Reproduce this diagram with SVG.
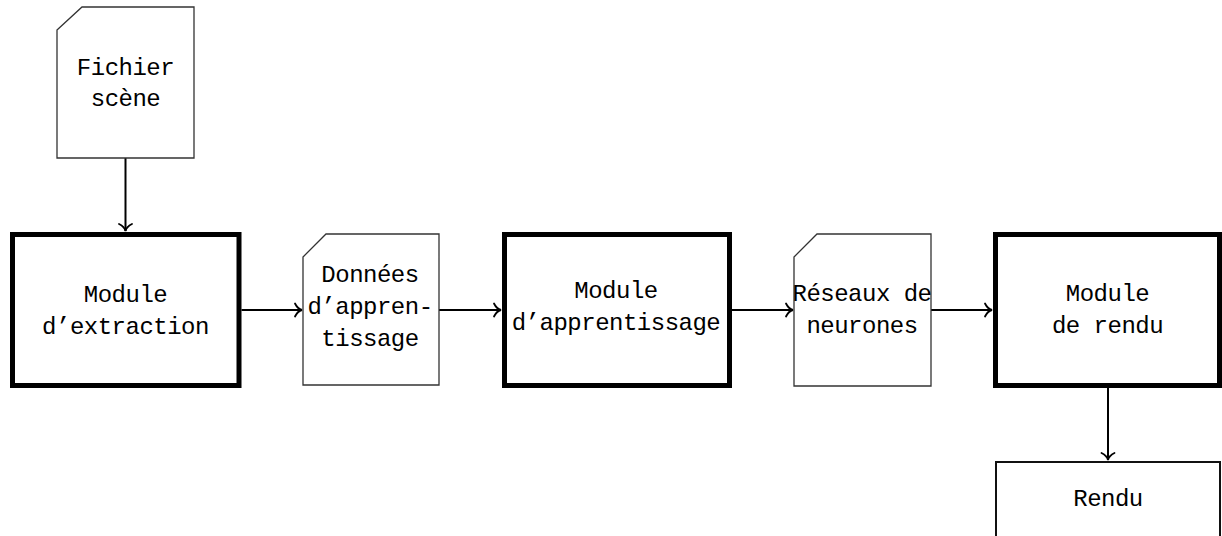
<svg xmlns="http://www.w3.org/2000/svg" width="1222" height="536" viewBox="0 0 1222 536">
<style>
.doc{fill:#fff;stroke:#333;stroke-width:1.3}
.mod{fill:#fff;stroke:#000;stroke-width:5}
.out{fill:#fff;stroke:#111;stroke-width:2}
.t{font-family:"Liberation Mono","DejaVu Sans Mono",monospace;font-size:24px;letter-spacing:-0.5px;fill:#000;text-anchor:middle}
.c{fill:none;stroke:#000;stroke-width:2}
</style>
<defs>
<marker id="ar" viewBox="-10 -10 12 20" refX="0" refY="0" markerWidth="12" markerHeight="20" markerUnits="userSpaceOnUse" orient="auto">
<path d="M-7,-6.5 C-5,-2.5 -2.5,-0.6 0,0 C-2.5,0.6 -5,2.5 -7,6.5" fill="none" stroke="#000" stroke-width="1.8" stroke-linecap="round"/>
</marker>
</defs>
<g id="connectors">
<line class="c" x1="125.5" y1="158" x2="125.5" y2="231" marker-end="url(#ar)"/>
<line class="c" x1="241.5" y1="310" x2="302" y2="310" marker-end="url(#ar)"/>
<line class="c" x1="439" y1="310" x2="501" y2="310" marker-end="url(#ar)"/>
<line class="c" x1="731" y1="310" x2="793" y2="310" marker-end="url(#ar)"/>
<line class="c" x1="931" y1="310" x2="992" y2="310" marker-end="url(#ar)"/>
<line class="c" x1="1108" y1="388" x2="1108" y2="460" marker-end="url(#ar)"/>
</g>
<g id="fichier">
<path class="doc" d="M57,30 L82,7 L194,7 L194,158 L57,158 Z"/>
<text class="t" x="125.5" y="75">Fichier</text>
<text class="t" x="125.5" y="106">scène</text>
</g>
<g id="extraction">
<rect class="mod" x="12.5" y="234.5" width="226.5" height="151"/>
<text class="t" x="125.5" y="302">Module</text>
<text class="t" x="125.5" y="334">d’extraction</text>
</g>
<g id="donnees">
<path class="doc" d="M303,257 L326,234 L439,234 L439,385 L303,385 Z"/>
<text class="t" x="370" y="282">Données</text>
<text class="t" x="370" y="314">d’appren-</text>
<text class="t" x="370" y="346">tissage</text>
</g>
<g id="apprentissage">
<rect class="mod" x="504.5" y="234.5" width="225" height="151"/>
<text class="t" x="616" y="298">Module</text>
<text class="t" x="616" y="330">d’apprentissage</text>
</g>
<g id="reseaux">
<path class="doc" d="M794,257 L817,234 L931,234 L931,386 L794,386 Z"/>
<text class="t" x="862" y="301">Réseaux de</text>
<text class="t" x="862" y="333">neurones</text>
</g>
<g id="rendu-module">
<rect class="mod" x="995.5" y="234.5" width="224" height="151"/>
<text class="t" x="1107.5" y="301">Module</text>
<text class="t" x="1107.5" y="333">de rendu</text>
</g>
<g id="rendu">
<rect class="out" x="996" y="462" width="224" height="80"/>
<text class="t" x="1108" y="506">Rendu</text>
</g>
</svg>
